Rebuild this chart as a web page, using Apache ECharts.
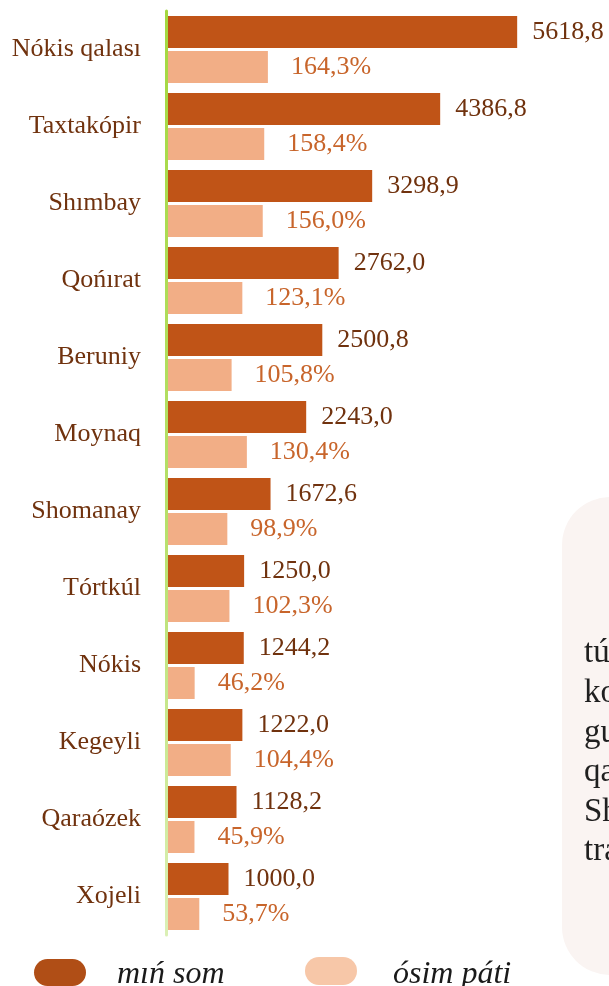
<!DOCTYPE html>
<html>
<head>
<meta charset="utf-8">
<script src="https://cdn.jsdelivr.net/npm/echarts@6/dist/echarts.min.js"></script>
<style>
  html, body { margin: 0; padding: 0; background: #fff; }
  #chart-container { width: 609px; height: 986px; }
</style>
</head>
<body>
<div id="chart-container"></div>
<script>
// rayonlar
const categories = [
  "Nókis qalası", "Taxtakópir", "Shımbay", "Qońırat", "Beruniy", "Moynaq",
  "Shomanay", "Tórtkúl", "Nókis", "Kegeyli", "Qaraózek", "Xojeli"
];
// mıń som
const somValues = [5618.8, 4386.8, 3298.9, 2762.0, 2500.8, 2243.0, 1672.6, 1250.0, 1244.2, 1222.0, 1128.2, 1000.0];
// ósim páti, %
const growthValues = [164.3, 158.4, 156.0, 123.1, 105.8, 130.4, 98.9, 102.3, 46.2, 104.4, 45.9, 53.7];

// right-hand note, cut off by the page edge
const sideLines = ["túsimler", "korxanalar", "guzarlar", "qalası", "Shımbay", "transport"];

const serif = "'Liberation Serif', 'DejaVu Serif', serif";
const fmt = (v, d) => v.toFixed(d).replace(".", ",");

const chart = echarts.init(document.getElementById("chart-container"));

const option = {
  backgroundColor: "#ffffff",
  animation: false,
  grid: { left: 166, right: 43, top: 11, bottom: 51 },
  xAxis: [
    { type: "value", min: 0, max: 6400, show: false },
    { type: "value", min: 0, max: 645, show: false }
  ],
  yAxis: {
    type: "category",
    data: categories,
    inverse: true,
    z: 5,
    axisTick: { show: false },
    axisLine: {
      show: true,
      lineStyle: {
        width: 3,
        color: new echarts.graphic.LinearGradient(0, 0, 0, 1, [
          { offset: 0, color: "#a3d83f" },
          { offset: 0.55, color: "#b6e06a" },
          { offset: 1, color: "#dbf0b6" }
        ])
      }
    },
    axisLabel: {
      margin: 25,
      fontFamily: serif,
      fontSize: 26,
      color: "#70320e"
    }
  },
  graphic: [
    {
      type: "rect",
      left: 562, top: 497,
      shape: { width: 120, height: 478, r: 48 },
      style: { fill: "#faf4f2" },
      z: -1
    },
    {
      type: "text",
      left: 584, top: 634,
      style: {
        text: sideLines.join("\n"),
        font: "33px " + serif,
        fill: "#1f1f1f",
        lineHeight: 39.6
      }
    },
    {
      type: "rect",
      left: 34, top: 959,
      shape: { width: 52, height: 27, r: 13.5 },
      style: { fill: "#b04e16" }
    },
    {
      type: "text",
      left: 117, top: 958,
      style: { text: "mıń som", font: "italic 32px " + serif, fill: "#1a1a1a", lineHeight: 33 }
    },
    {
      type: "rect",
      left: 305, top: 957,
      shape: { width: 52, height: 28, r: 14 },
      style: { fill: "#f7c7a8" }
    },
    {
      type: "text",
      left: 393, top: 958,
      style: { text: "ósim páti", font: "italic 32px " + serif, fill: "#1a1a1a", lineHeight: 33 }
    }
  ],
  series: [
    {
      name: "mıń som",
      type: "bar",
      xAxisIndex: 0,
      data: somValues,
      barWidth: 32,
      barGap: "10%",
      itemStyle: { color: "#c05417" },
      label: {
        show: true,
        position: "right",
        distance: 15,
        fontFamily: serif,
        fontSize: 26,
        color: "#70320e",
        formatter: (p) => fmt(p.value, 1)
      }
    },
    {
      name: "ósim páti",
      type: "bar",
      xAxisIndex: 1,
      data: growthValues,
      barWidth: 32,
      itemStyle: { color: "#f2ae86" },
      label: {
        show: true,
        position: "right",
        distance: 23,
        fontFamily: serif,
        fontSize: 26,
        color: "#c8652b",
        formatter: (p) => fmt(p.value, 1) + "%"
      }
    }
  ]
};

chart.setOption(option);
</script>
</body>
</html>
